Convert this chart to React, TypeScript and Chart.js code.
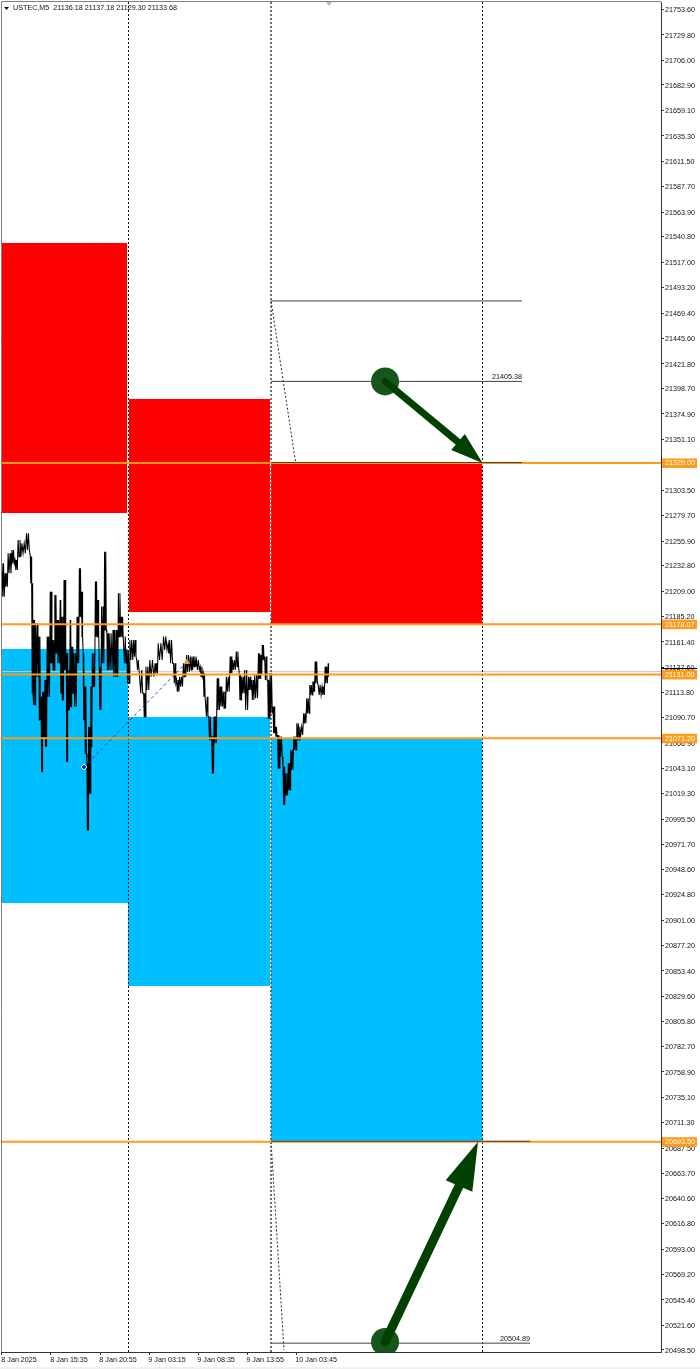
import React, { useEffect, useRef } from "react";
import { Chart, registerables } from "chart.js";

Chart.register(...registerables);

const FONT = '"Liberation Sans", sans-serif';
const Y_MAX = 21760.6;
const Y_MIN = 20496.6;
const X_MIN = -1.3;
const X_MAX = 860.7;

const title = "USTEC,M5  21136.18 21137.18 21129.30 21133.68";

const yTicks = [21753.6, 21729.8, 21706.0, 21682.9, 21659.1, 21635.3, 21611.5, 21587.7, 21563.9, 21540.8, 21517.0, 21493.2, 21469.4, 21445.6, 21421.8, 21398.7, 21374.9, 21351.1, 21327.3, 21303.5, 21279.7, 21255.9, 21232.8, 21209.0, 21185.2, 21161.4, 21137.6, 21113.8, 21090.7, 21066.9, 21043.1, 21019.3, 20995.5, 20971.7, 20948.6, 20924.8, 20901.0, 20877.2, 20853.4, 20829.6, 20805.8, 20782.7, 20758.9, 20735.1, 20711.3, 20687.5, 20663.7, 20640.6, 20616.8, 20593.0, 20569.2, 20545.4, 20521.6, 20498.5];
const xTickBars = [0, 64, 128, 192, 256, 320, 384];
const xTickLabels = ["8 Jan 2025", "8 Jan 15:35", "8 Jan 20:55", "9 Jan 03:15", "9 Jan 08:35", "9 Jan 13:55", "10 Jan 03:45"];

const barIdx = [0, 4, 8, 13, 17, 21, 26, 32, 37, 39, 41, 44, 48, 51, 53, 56, 59, 63, 66, 69, 72, 76, 78, 81, 84, 86, 89, 91, 94, 98, 101, 104, 106, 108, 111, 113, 116, 118, 122, 125, 127, 130, 134, 137, 140, 145, 149, 152, 156, 159, 163, 167, 172, 176, 180, 185, 188, 193, 200, 204, 211, 217, 219, 224, 228, 232, 237, 241, 246, 250, 254, 259, 263, 266, 270, 274, 277, 281, 285, 289, 293, 298, 301, 306, 310, 313, 317, 322, 326, 330, 335, 338, 340, 343, 347, 350, 354, 357, 360, 363, 367, 370, 374, 377, 381, 385, 389, 394, 398, 402, 406, 409, 413, 418, 422, 426];
const highs = [21235.0, 21225.7, 21244.4, 21247.5, 21238.2, 21256.9, 21253.8, 21263.1, 21241.3, 21216.3, 21182.0, 21178.8, 21166.4, 21110.2, 21114.9, 21125.8, 21166.4, 21208.5, 21163.2, 21205.4, 21182.0, 21200.7, 21185.1, 21219.4, 21150.8, 21135.2, 21182.0, 21157.0, 21150.8, 21185.1, 21230.4, 21208.5, 21150.8, 21119.6, 21047.8, 21082.1, 21119.6, 21150.8, 21217.9, 21200.7, 21138.3, 21194.5, 21245.9, 21169.5, 21169.5, 21172.6, 21172.6, 21206.9, 21185.1, 21166.4, 21153.9, 21163.2, 21163.2, 21144.5, 21135.2, 21113.3, 21138.3, 21144.5, 21141.4, 21160.1, 21166.4, 21160.1, 21163.3, 21141.4, 21125.8, 21128.9, 21141.4, 21149.2, 21147.7, 21147.7, 21144.5, 21138.3, 21132.1, 21110.2, 21091.5, 21072.8, 21091.5, 21127.4, 21119.6, 21114.9, 21128.9, 21147.7, 21144.5, 21152.4, 21130.5, 21128.9, 21135.2, 21128.9, 21125.8, 21130.5, 21150.8, 21149.2, 21158.6, 21147.7, 21125.8, 21132.1, 21100.9, 21082.1, 21074.3, 21072.8, 21044.7, 21038.4, 21047.8, 21060.3, 21072.8, 21085.2, 21082.1, 21094.6, 21108.7, 21121.1, 21124.3, 21143.0, 21121.1, 21119.6, 21138.3, 21141.4];
const lows = [21203.8, 21213.2, 21225.7, 21235.0, 21228.8, 21241.3, 21244.4, 21247.5, 21216.3, 21113.3, 21102.4, 21128.9, 21088.3, 21040.0, 21072.7, 21063.4, 21110.2, 21141.4, 21135.2, 21150.8, 21141.4, 21113.3, 21107.1, 21135.2, 21049.3, 21097.7, 21100.8, 21113.3, 21100.8, 21141.4, 21185.1, 21166.4, 21088.3, 21057.1, 20985.4, 21019.7, 21063.4, 21119.6, 21166.4, 21172.6, 21097.7, 21141.4, 21172.6, 21135.2, 21135.2, 21128.9, 21128.9, 21166.4, 21166.4, 21141.4, 21122.7, 21144.5, 21147.6, 21135.2, 21113.3, 21091.5, 21116.4, 21128.9, 21132.0, 21144.5, 21153.9, 21150.8, 21141.4, 21122.7, 21114.9, 21119.6, 21128.9, 21133.6, 21135.2, 21138.3, 21135.2, 21128.9, 21110.2, 21091.5, 21069.6, 21038.4, 21066.5, 21097.7, 21100.9, 21099.3, 21114.9, 21132.1, 21135.2, 21138.3, 21107.1, 21113.3, 21097.7, 21116.5, 21107.1, 21108.7, 21127.4, 21132.1, 21144.5, 21125.8, 21089.9, 21094.6, 21075.9, 21072.8, 21043.1, 21054.0, 21008.8, 21018.1, 21022.8, 21041.6, 21060.3, 21069.6, 21074.3, 21085.2, 21094.6, 21111.8, 21114.9, 21122.7, 21111.8, 21111.8, 21122.7, 21128.9];

const redZones = [
  { from: -1.3, to: 163.3, hi: 21535.0, lo: 21282.2 },
  { from: 165.9, to: 350.0, hi: 21388.9, lo: 21189.4 },
  { from: 351.4, to: 627.6, hi: 21329.0, lo: 21178.07 },
];
const blueZones = [
  { from: -1.3, to: 164.6, hi: 21154.8, lo: 20917.0 },
  { from: 164.6, to: 350.0, hi: 21091.2, lo: 20839.3 },
  { from: 351.4, to: 627.6, hi: 21071.2, lo: 20693.5 },
];
const priceLevels = [21329.0, 21178.07, 21131.0, 21071.2, 20693.5];
const priceTagText = ["21329.00", "21178.07", "21131.00", "21071.20", "20693.50"];
const bidLevel = 21133.68;
const vBars = [165.2, 351.4, 627.6];
const blackSegments = [
  { to: 679.2, price: 21480.7 },
  { to: 679.2, price: 21405.38 },
  { to: 679.2, price: 21329.4 },
  { to: 689.6, price: 20693.9 },
  { to: 689.6, price: 20504.89 },
];
const segmentLabels = [
  { bar: 679.2, price: 21405.38, text: "21405.38" },
  { bar: 689.6, price: 20504.89, text: "20504.89" },
];
const diagonals = [
  { x0: 351.4, y0: 21480.7, x1: 383.6, y1: 21329.0 },
  { x0: 351.4, y0: 20693.5, x1: 368.3, y1: 20498.5 },
];
const blueTrend = { x0: 107, y0: 21044.3, x1: 241.6, y1: 21142.6 };
const arrows = [
  { x0: 500.3, y0: 21405.38, bx: 595.6, by: 21348.6, x1: 627.6, y1: 21329.0, shaft: 7, headWid: 21 },
  { x0: 500.3, y0: 20506.0, bx: 596.9, by: 20652.0, x1: 621.7, y1: 20693.5, shaft: 9, headWid: 29 },
];

const annotations = {
  id: "annotations",
  afterDatasetsDraw(chart: any) {
    const { ctx, scales } = chart;
    const xs = scales.x;
    const ys = scales.y;
    ctx.save();
    for (const a of arrows) {
      const tx = xs.getPixelForValue(a.x1);
      const ty = ys.getPixelForValue(a.y1);
      const bx = xs.getPixelForValue(a.bx);
      const by = ys.getPixelForValue(a.by);
      const ang = Math.atan2(ty - by, tx - bx);
      const nx = -Math.sin(ang) * a.headWid * 0.5;
      const ny = Math.cos(ang) * a.headWid * 0.5;
      ctx.fillStyle = "#004000";
      ctx.beginPath();
      ctx.moveTo(tx, ty);
      ctx.lineTo(bx + nx, by + ny);
      ctx.lineTo(bx - nx, by - ny);
      ctx.closePath();
      ctx.fill();
    }
    ctx.restore();
  },
  afterDraw(chart: any) {
    const { ctx, scales, chartArea } = chart;
    const ys = scales.y;
    const xs = scales.x;
    ctx.save();
    ctx.strokeStyle = "#808080";
    ctx.lineWidth = 1;
    ctx.beginPath();
    ctx.moveTo(1.5, chartArea.bottom);
    ctx.lineTo(1.5, 1.5);
    ctx.lineTo(chartArea.right, 1.5);
    ctx.stroke();
    ctx.strokeStyle = "#000";
    ctx.beginPath();
    ctx.moveTo(chartArea.right, 668.5);
    ctx.lineTo(697, 668.5);
    ctx.stroke();
    ctx.font = `7.2px ${FONT}`;
    ctx.textBaseline = "middle";
    priceLevels.forEach((p, i) => {
      const y = ys.getPixelForValue(p);
      ctx.fillStyle = "#ff9a1a";
      ctx.fillRect(662, y - 4.5, 35, 9.5);
      ctx.fillStyle = "#ffffff";
      ctx.textAlign = "left";
      ctx.fillText(priceTagText[i], 665, y + 0.5);
    });
    ctx.fillStyle = "#111";
    ctx.textAlign = "right";
    ctx.textBaseline = "bottom";
    for (const l of segmentLabels) {
      ctx.fillText(l.text, xs.getPixelForValue(l.bar), ys.getPixelForValue(l.price) - 0.5);
    }
    ctx.textAlign = "left";
    ctx.textBaseline = "middle";
    ctx.fillStyle = "#111";
    ctx.font = `7.2px ${FONT}`;
    ctx.fillText(title, 13, 8.5);
    ctx.fillStyle = "#111";
    ctx.beginPath();
    ctx.moveTo(4, 7);
    ctx.lineTo(9, 7);
    ctx.lineTo(6.5, 10);
    ctx.closePath();
    ctx.fill();
    ctx.fillStyle = "#b8b8b8";
    ctx.beginPath();
    ctx.moveTo(326, 2);
    ctx.lineTo(332, 2);
    ctx.lineTo(329, 6);
    ctx.closePath();
    ctx.fill();
    ctx.fillStyle = "#f0f0f0";
    ctx.fillRect(0, 1367, 700, 2);
    ctx.restore();
  },
};

const noPad = (s: any) => {
  s.paddingLeft = 0;
  s.paddingRight = 0;
  s.paddingTop = 0;
  s.paddingBottom = 0;
};

export default function App() {
  const ref = useRef<HTMLCanvasElement>(null);
  useEffect(() => {
    const canvas = ref.current!;
    const plain = { pointRadius: 0, pointHoverRadius: 0, tension: 0, fill: false };
    const zig: { x: number; y: number }[] = [];
    barIdx.forEach((b, i) => {
      const next = i + 1 < barIdx.length ? barIdx[i + 1] : b + 1;
      const gap = next - b;
      zig.push({ x: b, y: highs[i] });
      zig.push({ x: b + gap * 0.25, y: lows[i] });
      zig.push({ x: b + gap * 0.5, y: highs[i] });
      zig.push({ x: b + gap * 0.75, y: lows[i] });
    });
    const zones = (list: typeof redZones, color: string) =>
      list.map((z) => ({
        ...plain,
        data: [{ x: z.from, y: z.hi }, { x: z.to, y: z.hi }],
        fill: { value: z.lo },
        backgroundColor: color,
        borderWidth: 0,
        order: 100,
      }));
    const datasets: any[] = [
      ...zones(redZones, "#ff0000"),
      ...zones(blueZones, "#00bfff"),
      {
        ...plain,
        data: [{ x: X_MIN, y: bidLevel }, { x: X_MAX, y: bidLevel }],
        borderColor: "#c8c8c8",
        borderWidth: 1,
        order: 90,
      },
      ...diagonals.map((d) => ({
        ...plain,
        data: [{ x: d.x0, y: d.y0 }, { x: d.x1, y: d.y1 }],
        borderColor: "#222",
        borderWidth: 1,
        borderDash: [2, 2],
        order: 79,
      })),
      ...vBars.map((b, i) => ({
        ...plain,
        data: [{ x: b, y: Y_MAX }, { x: b, y: Y_MIN }],
        borderColor: i === 1 ? "#555" : "#111",
        borderWidth: i === 1 ? 1.6 : 1,
        borderDash: [2, 2],
        order: 70,
      })),
      {
        ...plain,
        data: zig,
        borderColor: "#000",
        borderWidth: 1.05,
        order: 60,
      },
      {
        ...plain,
        data: [{ x: blueTrend.x0, y: blueTrend.y0 }, { x: blueTrend.x1, y: blueTrend.y1 }],
        borderColor: "#3030e8",
        borderWidth: 1,
        borderDash: [3, 3],
        pointRadius: [3, 3],
        pointStyle: ["rectRot", "triangle"],
        pointBackgroundColor: ["#2020e0", "#e0a030"],
        pointBorderColor: ["#ffffff", "#e0a030"],
        pointBorderWidth: 1,
        order: 50,
      },
      ...priceLevels.map((p) => ({
        ...plain,
        data: [{ x: X_MIN, y: p }, { x: X_MAX, y: p }],
        borderColor: "#ff9a1a",
        borderWidth: 2,
        order: 40,
      })),
      ...blackSegments.map((s) => ({
        ...plain,
        data: [{ x: 351.4, y: s.price }, { x: s.to, y: s.price }],
        borderColor: "#404040",
        borderWidth: 1,
        order: 30,
      })),
      ...arrows.map((a) => ({
        ...plain,
        data: [{ x: a.x0, y: a.y0 }],
        showLine: false,
        pointRadius: 14,
        pointBackgroundColor: "#17561a",
        pointBorderColor: "#17561a",
        pointBorderWidth: 0,
        order: 21,
      })),
      ...arrows.map((a) => ({
        ...plain,
        data: [{ x: a.x0, y: a.y0 }, { x: a.bx, y: a.by }],
        borderColor: "#004000",
        borderWidth: a.shaft,
        borderCapStyle: "round",
        order: 20,
      })),
    ];
    const chart = new Chart(canvas, {
      type: "line",
      data: { datasets },
      plugins: [annotations],
      options: {
        animation: false,
        responsive: false,
        parsing: false,
        normalized: true,
        layout: { autoPadding: false, padding: { left: 1, top: 2, right: 0, bottom: 0 } },
        plugins: { legend: { display: false }, tooltip: { enabled: false } },
        scales: {
          x: {
            type: "linear",
            min: X_MIN,
            max: X_MAX,
            afterFit(s: any) { s.height = 17; noPad(s); },
            afterBuildTicks(s: any) { s.ticks = xTickBars.map((value) => ({ value })); },
            grid: { drawOnChartArea: false, drawTicks: true, tickLength: 3, color: "#333", tickColor: "#333" },
            border: { color: "#333", width: 1 },
            ticks: {
              autoSkip: false,
              maxRotation: 0,
              align: "start",
              labelOffset: -0.7,
              padding: 1,
              color: "#111",
              font: { family: FONT, size: 7.2 },
              callback(_v: any, i: number) { return xTickLabels[i]; },
            },
          },
          y: {
            type: "linear",
            position: "right",
            min: Y_MIN,
            max: Y_MAX,
            afterFit(s: any) { s.width = 39; noPad(s); },
            afterBuildTicks(s: any) { s.ticks = yTicks.map((value) => ({ value })); },
            grid: { drawOnChartArea: false, drawTicks: true, tickLength: 3, color: "#333", tickColor: "#333" },
            border: { color: "#333", width: 1 },
            ticks: {
              autoSkip: false,
              labelOffset: 0.7,
              padding: 1,
              color: "#111",
              font: { family: FONT, size: 7.2 },
              callback(v: any) { return Number(v).toFixed(2); },
            },
          },
        },
      },
    });
    return () => chart.destroy();
  }, []);
  return (
    <canvas
      ref={ref}
      width={700}
      height={1369}
      style={{ position: "absolute", left: 0, top: 0, width: 700, height: 1369, background: "#fff", display: "block" }}
    />
  );
}
